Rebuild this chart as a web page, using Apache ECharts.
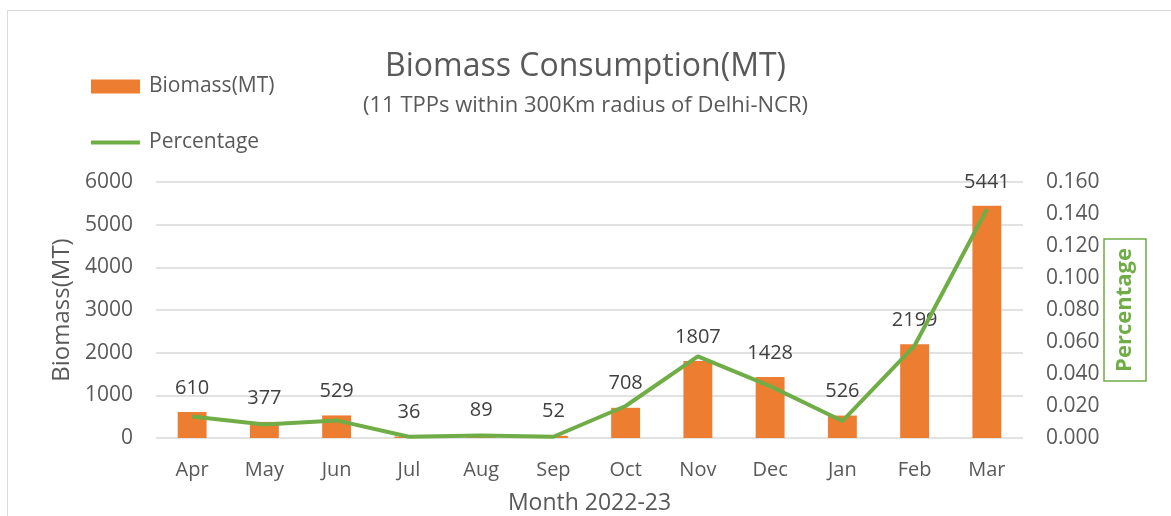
<!DOCTYPE html>
<html>
<head>
<meta charset="utf-8">
<script src="https://cdn.jsdelivr.net/npm/echarts@6/dist/echarts.min.js"></script>
<style>
  html, body { margin: 0; padding: 0; background: #fff; }
  #chart { width: 1171px; height: 516px; }
</style>
</head>
<body>
<div id="chart"></div>
<script>
// 图表数据
const months = ['Apr', 'May', 'Jun', 'Jul', 'Aug', 'Sep', 'Oct', 'Nov', 'Dec', 'Jan', 'Feb', 'Mar'];
const biomass = [610, 377, 529, 36, 89, 52, 708, 1807, 1428, 526, 2199, 5441];
const percentage = [0.0135, 0.0085, 0.011, 0.0008, 0.0016, 0.0008, 0.020, 0.051, 0.0324, 0.0106, 0.0578, 0.143];

const font = '"Open Sans", "Noto Sans", sans-serif';
const gray = '#595959';

const myChart = echarts.init(document.getElementById('chart'));
myChart.setOption({
    textStyle: { fontFamily: font },
    title: {
        text: 'Biomass Consumption(MT)',
        subtext: '(11 TPPs within 300Km radius of Delhi-NCR)',
        left: 'center',
        top: 46,
        itemGap: 12,
        textStyle: { fontSize: 32, fontWeight: 'normal', color: gray, fontFamily: font },
        subtextStyle: { fontSize: 22, color: gray, fontFamily: font }
    },
    legend: {
        orient: 'vertical',
        left: 86,
        top: 71,
        itemGap: 35,
        itemWidth: 49,
        itemHeight: 14,
        textStyle: { fontSize: 21, color: gray, fontFamily: font, padding: [0, 0, 0, 4] },
        data: [
            { name: 'Biomass(MT)', icon: 'rect' },
            { name: 'Percentage', icon: 'path://M0,0H49V4H0Z' }
        ]
    },
    graphic: [{
        type: 'rect',
        shape: { x: 7.5, y: 10.5, width: 1300, height: 700 },
        style: { fill: 'none', stroke: '#d9d9d9', lineWidth: 1 },
        silent: true
    }],
    grid: { left: 156, right: 148, top: 182, bottom: 78 },
    xAxis: {
        type: 'category',
        data: months,
        name: 'Month 2022-23',
        nameLocation: 'middle',
        nameGap: 54,
        nameMoveOverlap: false,
        nameTextStyle: { fontSize: 23, color: gray },
        axisLine: { show: false },
        axisTick: { show: false },
        axisLabel: { fontSize: 20, color: gray, margin: 22 }
    },
    yAxis: [
        {
            type: 'value',
            min: 0,
            max: 6000,
            interval: 1000,
            name: 'Biomass(MT)',
            nameLocation: 'middle',
            nameGap: 82,
            nameMoveOverlap: false,
            nameTextStyle: { fontSize: 24, color: gray },
            axisLabel: { fontSize: 21, color: gray, margin: 23, formatter: v => String(v) },
            splitLine: { lineStyle: { color: '#d9d9d9', width: 1.5 } }
        },
        {
            type: 'value',
            min: 0,
            max: 0.16,
            interval: 0.02,
            name: 'Percentage',
            nameLocation: 'middle',
            nameGap: 81,
            nameMoveOverlap: false,
            nameRotate: 90,
            nameTextStyle: {
                fontSize: 22,
                fontWeight: 'bold',
                color: '#70AD47',
                borderColor: '#70AD47',
                borderWidth: 1.5,
                padding: [10, 9, 10, 9]
            },
            axisLabel: {
                fontSize: 21,
                color: gray,
                margin: 23,
                formatter: v => v.toFixed(3)
            },
            splitLine: { show: false }
        }
    ],
    series: [
        {
            name: 'Biomass(MT)',
            type: 'bar',
            data: biomass,
            barWidth: '40%',
            itemStyle: { color: '#ED7D31' },
            label: {
                show: true,
                position: 'top',
                distance: 14,
                fontSize: 20,
                color: '#404040'
            }
        },
        {
            name: 'Percentage',
            type: 'line',
            yAxisIndex: 1,
            data: percentage,
            symbol: 'none',
            lineStyle: { color: '#70AD47', width: 4 },
            itemStyle: { color: '#70AD47' }
        }
    ]
});
</script>
</body>
</html>
